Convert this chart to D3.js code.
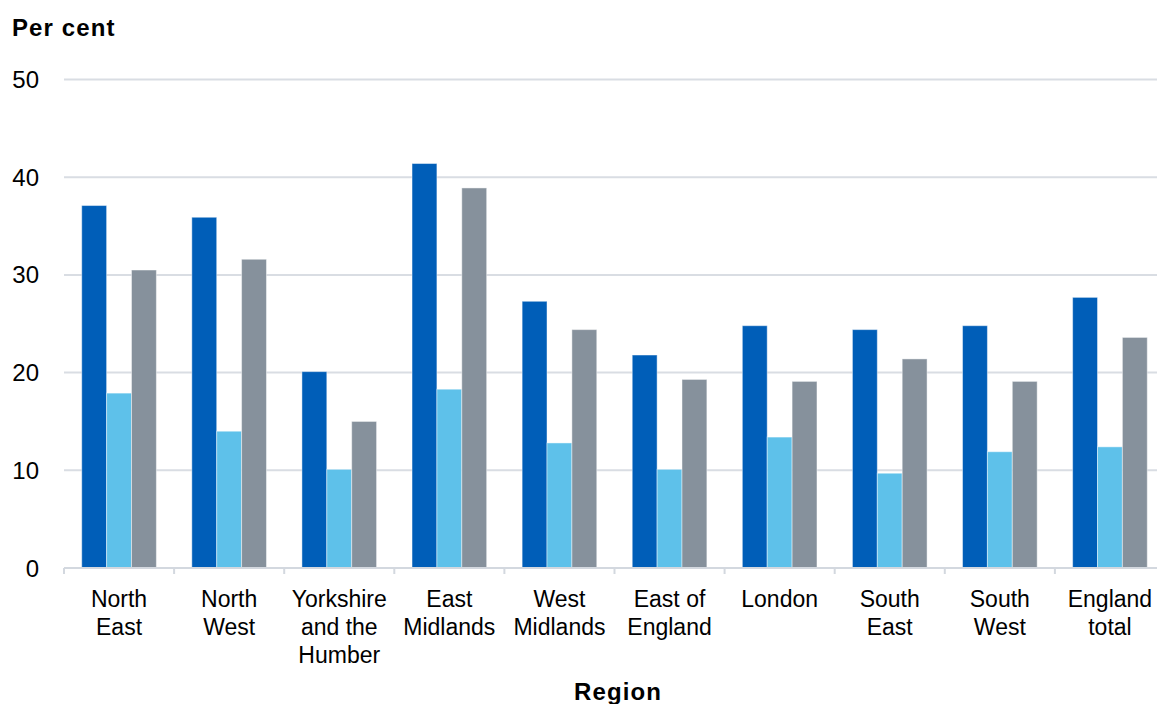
<!DOCTYPE html>
<html>
<head>
<meta charset="utf-8">
<script src="https://cdn.jsdelivr.net/npm/d3@7"></script>
<style>
  html, body { margin: 0; padding: 0; background: #ffffff; }
  svg { display: block; font-family: "Liberation Sans", Arial, sans-serif; }
</style>
</head>
<body>
<svg id="chart" width="1157" height="704"></svg>
<script>
// Regions along the x axis (each entry is one label, split into lines)
const regions = [
  ["North", "East"],
  ["North", "West"],
  ["Yorkshire", "and the", "Humber"],
  ["East", "Midlands"],
  ["West", "Midlands"],
  ["East of", "England"],
  ["London"],
  ["South", "East"],
  ["South", "West"],
  ["England", "total"]
];

// Per cent values, three series per region
const seriesDark  = [37.1, 35.9, 20.1, 41.4, 27.3, 21.8, 24.8, 24.4, 24.8, 27.7];
const seriesLight = [17.9, 14.0, 10.1, 18.3, 12.8, 10.1, 13.4,  9.7, 11.9, 12.4];
const seriesGrey  = [30.5, 31.6, 15.0, 38.9, 24.4, 19.3, 19.1, 21.4, 19.1, 23.6];

const yTicks = [0, 10, 20, 30, 40, 50];

const seriesKeys = ["dark", "light", "grey"];
const seriesColors = { dark: "#005EB8", light: "#5EC1EA", grey: "#86919C" };
const seriesValues = { dark: seriesDark, light: seriesLight, grey: seriesGrey };

const svg = d3.select("#chart");

const plotLeft = 64, plotRight = 1165, plotTop = 79.5, plotBottom = 568;

const regionKeys = regions.map((r, i) => i);
const x0 = d3.scaleBand().domain(regionKeys).range([plotLeft, plotRight]).padding(0);
const bw = x0.bandwidth();
const groupPad = bw * 0.161;
const x1 = d3.scaleBand().domain(seriesKeys).range([groupPad, bw - groupPad]).padding(0);
const y = d3.scaleLinear().domain([0, 50]).range([plotBottom, plotTop]);

// Horizontal gridlines
svg.append("g")
  .selectAll("line")
  .data(yTicks.filter(t => t > 0))
  .join("line")
  .attr("x1", plotLeft)
  .attr("x2", 1157)
  .attr("y1", d => y(d))
  .attr("y2", d => y(d))
  .attr("stroke", "#D9DDE3")
  .attr("stroke-width", 2);

// Y tick labels
svg.append("g")
  .selectAll("text")
  .data(yTicks)
  .join("text")
  .attr("x", 39)
  .attr("y", d => y(d) + 8.5)
  .attr("text-anchor", "end")
  .attr("font-size", 24)
  .attr("fill", "#000")
  .text(d => d);

// Bars
const groups = svg.append("g")
  .selectAll("g")
  .data(regionKeys)
  .join("g")
  .attr("transform", i => `translate(${x0(i)},0)`);

groups.selectAll("rect")
  .data(i => seriesKeys.map(k => ({ key: k, value: seriesValues[k][i] })))
  .join("rect")
  .attr("x", d => x1(d.key))
  .attr("width", x1.bandwidth())
  .attr("y", d => y(d.value))
  .attr("height", d => y(0) - y(d.value))
  .attr("fill", d => seriesColors[d.key])
  .attr("stroke", "rgba(255,255,255,0.45)")
  .attr("stroke-width", 1);

// X axis baseline and category ticks at band boundaries
svg.append("line")
  .attr("x1", plotLeft)
  .attr("x2", 1157)
  .attr("y1", plotBottom)
  .attr("y2", plotBottom)
  .attr("stroke", "#D3D8DF")
  .attr("stroke-width", 2);

svg.append("g")
  .selectAll("line")
  .data(regionKeys.concat([regions.length]))
  .join("line")
  .attr("x1", i => plotLeft + i * bw)
  .attr("x2", i => plotLeft + i * bw)
  .attr("y1", plotBottom)
  .attr("y2", plotBottom + 6)
  .attr("stroke", "#D3D8DF")
  .attr("stroke-width", 2);

// Category labels
const labels = svg.append("g")
  .selectAll("text")
  .data(regionKeys)
  .join("text")
  .attr("x", i => x0(i) + bw / 2)
  .attr("y", plotBottom + 38.7)
  .attr("text-anchor", "middle")
  .attr("font-size", 23)
  .attr("fill", "#000");

labels.selectAll("tspan")
  .data(i => regions[i].map((line, j) => ({ line, j, i })))
  .join("tspan")
  .attr("x", d => x0(d.i) + bw / 2)
  .attr("dy", d => d.j === 0 ? 0 : 28)
  .text(d => d.line);

// Axis titles
svg.append("text")
  .attr("x", 12)
  .attr("y", 36)
  .attr("font-size", 24)
  .attr("font-weight", "bold")
  .attr("letter-spacing", 1.1)
  .attr("fill", "#000")
  .text("Per cent");

svg.append("text")
  .attr("x", 618)
  .attr("y", 700)
  .attr("text-anchor", "middle")
  .attr("font-size", 24)
  .attr("font-weight", "bold")
  .attr("letter-spacing", 1.1)
  .attr("fill", "#000")
  .text("Region");
</script>
</body>
</html>
